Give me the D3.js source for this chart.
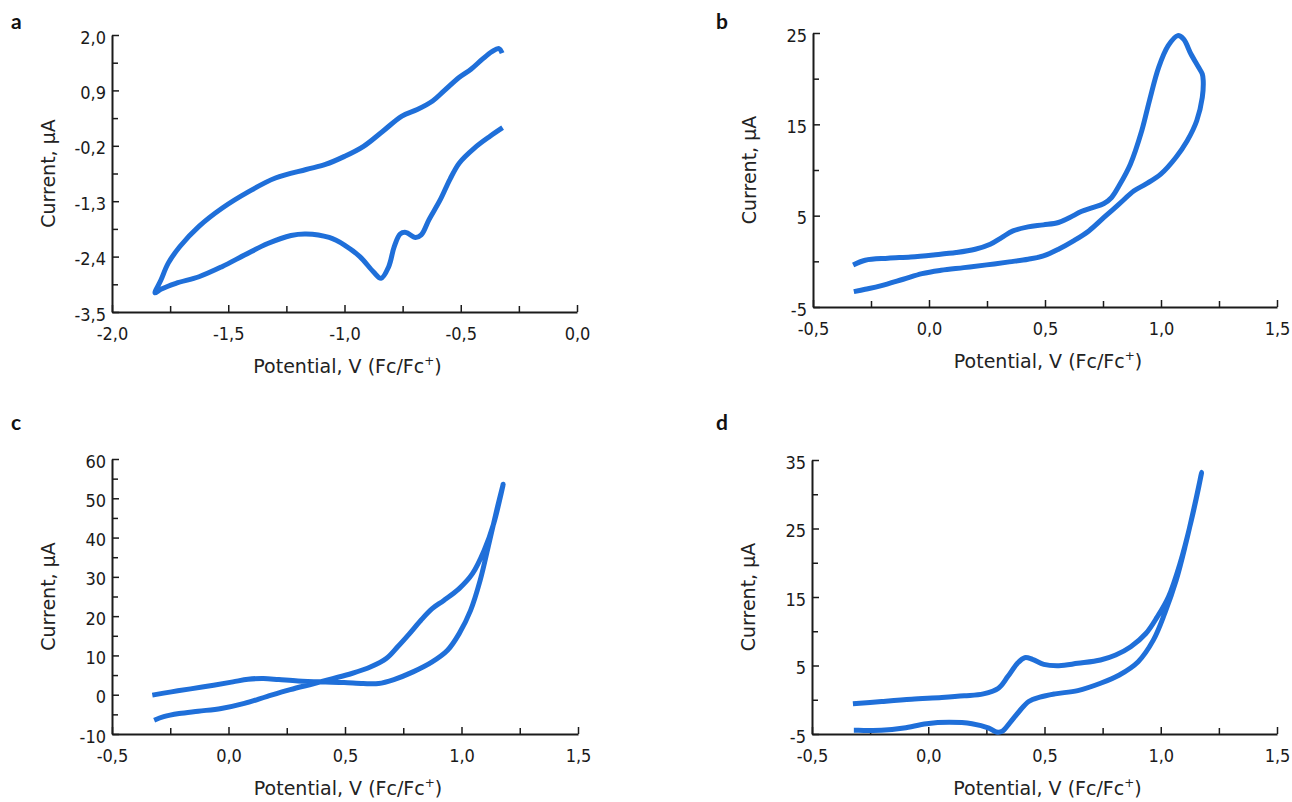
<!DOCTYPE html>
<html>
<head>
	<meta charset="utf-8">
	<title>Cyclic voltammograms</title>
	<script src="https://cdn.jsdelivr.net/npm/d3@7"></script>
	<style>
		body { margin: 0; background: #fff; }
		svg { display: block; }
	</style>
</head>
<body>
<div id="chart"></div>
<script>

	// data

	// panel a
	const potentialA = [-0.32, -0.374, -0.44, -0.506, -0.547, -0.588, -0.637, -0.67, -0.695, -0.736, -0.76, -0.786, -0.81, -0.843, -0.876, -0.934, -1.0, -1.066, -1.165, -1.23, -1.33, -1.43, -1.527, -1.626, -1.725, -1.79, -1.815,
		-1.79, -1.758, -1.708, -1.626, -1.527, -1.412, -1.297, -1.165, -1.082, -1.0, -0.918, -0.835, -0.753, -0.687, -0.621, -0.572, -0.506, -0.456, -0.407, -0.366, -0.336, -0.322];
	const currentA = [0.16, -0.01, -0.24, -0.54, -0.87, -1.27, -1.67, -1.97, -2.02, -1.92, -1.95, -2.2, -2.6, -2.83, -2.7, -2.4, -2.17, -2.02, -1.95, -1.98, -2.14, -2.37, -2.6, -2.8, -2.93, -3.05, -3.12,
		-2.87, -2.53, -2.2, -1.8, -1.44, -1.11, -0.84, -0.67, -0.57, -0.41, -0.21, 0.09, 0.39, 0.52, 0.69, 0.89, 1.16, 1.32, 1.52, 1.67, 1.73, 1.64];

	// panel b
	const potentialB = [-0.327, -0.275, -0.177, -0.079, 0.019, 0.117, 0.199, 0.264, 0.313, 0.362, 0.427, 0.493, 0.558, 0.607, 0.656, 0.705, 0.754, 0.787, 0.819, 0.868, 0.917, 0.95, 0.99, 1.031, 1.072, 1.097, 1.129, 1.162, 1.178,
		1.182, 1.178, 1.154, 1.113, 1.064, 0.999, 0.934, 0.884, 0.819, 0.754, 0.689, 0.623, 0.558, 0.493, 0.427, 0.346, 0.248, 0.15, 0.052, -0.03, -0.111, -0.209, -0.275, -0.324];
	const currentB = [-0.39, 0.12, 0.34, 0.48, 0.7, 0.96, 1.32, 1.87, 2.6, 3.33, 3.77, 3.99, 4.25, 4.8, 5.45, 5.89, 6.33, 6.99, 8.27, 10.64, 14.3, 17.58, 21.24, 23.61, 24.71, 24.34, 22.7, 21.24, 20.51,
		19.78, 17.95, 15.39, 13.2, 11.37, 9.55, 8.45, 7.72, 6.26, 4.8, 3.33, 2.24, 1.32, 0.59, 0.23, -0.06, -0.39, -0.69, -0.98, -1.34, -1.96, -2.69, -3.06, -3.32];

	// panel c
	const potentialC = [-0.327, -0.245, -0.163, -0.064, 0.019, 0.084, 0.15, 0.216, 0.298, 0.397, 0.496, 0.578, 0.644, 0.71, 0.792, 0.874, 0.94, 0.99, 1.039, 1.08, 1.121, 1.154, 1.179,
		1.138, 1.097, 1.047, 0.99, 0.924, 0.874, 0.825, 0.776, 0.726, 0.677, 0.611, 0.529, 0.447, 0.364, 0.265, 0.167, 0.068, -0.031, -0.13, -0.212, -0.278, -0.319];
	const currentC = [-0.1, 0.73, 1.49, 2.42, 3.27, 3.95, 4.12, 3.86, 3.52, 3.27, 3.1, 2.84, 2.84, 3.86, 5.81, 8.35, 11.31, 15.55, 21.47, 29.1, 39.3, 47.7, 53.6,
		43.5, 36.7, 30.8, 27.0, 24.0, 21.9, 18.9, 15.5, 12.2, 9.2, 7.1, 5.4, 4.1, 2.8, 1.3, -0.4, -2.2, -3.5, -4.2, -4.8, -5.6, -6.5];

	// panel d
	const potentialD = [-0.324, -0.2, -0.072, 0.058, 0.155, 0.237, 0.302, 0.342, 0.383, 0.415, 0.448, 0.497, 0.562, 0.643, 0.741, 0.806, 0.871, 0.936, 0.985, 1.033, 1.082, 1.131, 1.163, 1.176,
		1.147, 1.107, 1.066, 1.017, 0.968, 0.903, 0.822, 0.741, 0.643, 0.546, 0.48, 0.432, 0.391, 0.35, 0.318, 0.293, 0.261, 0.188, 0.09, -0.007, -0.105, -0.202, -0.3, -0.32];
	const currentD = [-0.6, -0.25, 0.08, 0.33, 0.57, 0.86, 1.68, 3.38, 5.3, 6.14, 5.9, 5.17, 4.98, 5.32, 5.8, 6.53, 7.74, 9.67, 12.1, 15.0, 19.8, 26.1, 31.0, 33.2,
		28.6, 22.7, 17.4, 12.6, 8.7, 5.56, 3.62, 2.41, 1.34, 0.86, 0.38, -0.26, -1.71, -3.4, -4.6, -4.7, -4.13, -3.5, -3.3, -3.5, -4.13, -4.47, -4.47, -4.47];

	// tick values
	const xTicksA = [-2.0, -1.5, -1.0, -0.5, 0.0];
	const xTicksBCD = [-0.5, 0.0, 0.5, 1.0, 1.5];
	const yTicksA = [-3.5, -2.4, -1.3, -0.2, 0.9, 2.0];
	const yTicksB = [-5, 5, 15, 25];
	const yTicksC = [-10, 0, 10, 20, 30, 40, 50, 60];
	const yTicksD = [-5, 5, 15, 25, 35];

	// layout

	const width = 1292;
	const height = 802;
	const lineColor = "#1f6fd9";
	const axisColor = "#1b1b1b";
	const tickFont = "'DejaVu Sans Condensed', 'DejaVu Sans', sans-serif";
	const titleFont = "'DejaVu Sans', Verdana, sans-serif";

	const locale = d3.formatLocale({decimal: ",", thousands: ".", grouping: [3], currency: ["", ""], minus: "-"});
	const f1 = locale.format(".1f");
	const f0 = locale.format("d");

	const svg = d3.select("#chart").append("svg")
		.attr("width", width)
		.attr("height", height);

	function midpoints(ticks) {
		const m = [];
		for (let i = 0; i < ticks.length - 1; i++) m.push((ticks[i] + ticks[i + 1]) / 2);
		return m;
	}

	function panel({letter, lx, ly, left, right, top, bottom, xDomain, yDomain, xTicks, yTicks, yFormat, xs, ys}) {
		const x = d3.scaleLinear().domain(xDomain).range([left, right]);
		const y = d3.scaleLinear().domain(yDomain).range([bottom, top]);
		const g = svg.append("g");

		// minor ticks
		g.append("g")
			.attr("transform", `translate(0,${bottom})`)
			.call(d3.axisBottom(x).tickValues(midpoints(xTicks)).tickSize(-6).tickFormat(""))
			.call(s => s.select(".domain").remove())
			.call(s => s.selectAll("line").attr("stroke", axisColor).attr("stroke-width", 1.5));
		g.append("g")
			.attr("transform", `translate(${left},0)`)
			.call(d3.axisLeft(y).tickValues(midpoints(yTicks)).tickSize(-6).tickFormat(""))
			.call(s => s.select(".domain").remove())
			.call(s => s.selectAll("line").attr("stroke", axisColor).attr("stroke-width", 1.5));

		// major axes
		const xAxis = g.append("g")
			.attr("transform", `translate(0,${bottom})`)
			.call(d3.axisBottom(x).tickValues(xTicks).tickSizeInner(-7).tickSizeOuter(0).tickPadding(15).tickFormat(f1));
		const yAxis = g.append("g")
			.attr("transform", `translate(${left},0)`)
			.call(d3.axisLeft(y).tickValues(yTicks).tickSizeInner(-7).tickSizeOuter(0).tickPadding(6).tickFormat(yFormat));
		yAxis.selectAll("text").attr("dy", "0.45em");

		[xAxis, yAxis].forEach(a => {
			a.select(".domain").attr("stroke", axisColor).attr("stroke-width", 2);
			a.selectAll("line").attr("stroke", axisColor).attr("stroke-width", 1.5);
			a.selectAll("text")
				.attr("fill", "#1a1a1a")
				.attr("font-family", tickFont)
				.attr("font-size", 18);
		});

		// the voltammogram
		const pts = xs.map((v, i) => [v, ys[i]]);
		g.append("path")
			.datum(pts)
			.attr("fill", "none")
			.attr("stroke", lineColor)
			.attr("stroke-width", 5)
			.attr("stroke-linejoin", "round")
			.attr("d", d3.line().x(d => x(d[0])).y(d => y(d[1])).curve(d3.curveCatmullRom.alpha(0.5)));

		// axis titles
		const xt = g.append("text")
			.attr("x", (left + right) / 2 + 3)
			.attr("y", bottom + 61)
			.attr("text-anchor", "middle")
			.attr("font-family", titleFont)
			.attr("font-size", 19)
			.attr("fill", "#222")
			.text("Potential, V (Fc/Fc");
		xt.append("tspan").attr("dy", -8).attr("font-size", 12).text("+");
		xt.append("tspan").attr("dy", 8).text(")");

		g.append("text")
			.attr("transform", `translate(${left - 57},${(top + bottom) / 2}) rotate(-90)`)
			.attr("text-anchor", "middle")
			.attr("font-family", titleFont)
			.attr("font-size", 19)
			.attr("fill", "#222")
			.text("Current, μA");

		// panel letter
		g.append("text")
			.attr("x", lx)
			.attr("y", ly)
			.attr("font-family", "Lato, 'Open Sans', sans-serif")
			.attr("font-weight", "bold")
			.attr("font-size", 21)
			.attr("fill", "#111")
			.text(letter);
	}

	panel({letter: "a", lx: 11, ly: 29, left: 112, right: 577, top: 35, bottom: 312,
		xDomain: [-2, 0], yDomain: [-3.5, 2.0], xTicks: xTicksA, yTicks: yTicksA, yFormat: f1,
		xs: potentialA, ys: currentA});

	panel({letter: "b", lx: 716, ly: 29, left: 813, right: 1277, top: 33, bottom: 307,
		xDomain: [-0.5, 1.5], yDomain: [-5, 25], xTicks: xTicksBCD, yTicks: yTicksB, yFormat: f0,
		xs: potentialB, ys: currentB});

	panel({letter: "c", lx: 11, ly: 430, left: 112, right: 578, top: 459, bottom: 734,
		xDomain: [-0.5, 1.5], yDomain: [-10, 60], xTicks: xTicksBCD, yTicks: yTicksC, yFormat: f0,
		xs: potentialC, ys: currentC});

	panel({letter: "d", lx: 716, ly: 430, left: 812, right: 1277, top: 460, bottom: 734,
		xDomain: [-0.5, 1.5], yDomain: [-5, 35], xTicks: xTicksBCD, yTicks: yTicksD, yFormat: f0,
		xs: potentialD, ys: currentD});

</script>
</body>
</html>
